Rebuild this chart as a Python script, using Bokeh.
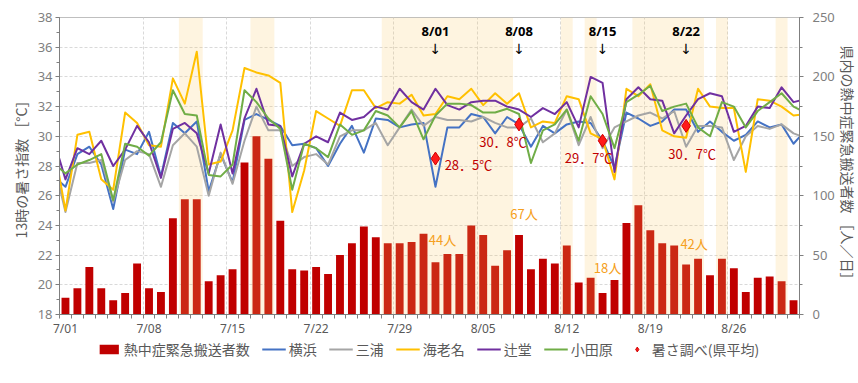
from bokeh.plotting import figure
from bokeh.layouts import column
from bokeh.models import Range1d, LinearAxis, FixedTicker, Legend, LegendItem
from bokeh.core.properties import value
from bokeh.embed import file_html
from bokeh.resources import INLINE

# ---------------- data ----------------
dates = [f"7/{d:02d}" for d in range(1, 32)] + [f"8/{d:02d}" for d in range(1, 32)]
tick_labels = ["7/01", "7/08", "7/15", "7/22", "7/29", "8/05", "8/12", "8/19", "8/26"]

# 熱中症緊急搬送者数 (persons / day), 7/01 .. 8/31
transports = [14, 22, 40, 22, 12, 18, 43, 22, 19, 81,
              97, 97, 28, 33, 38, 128, 150, 131, 79, 38,
              37, 40, 34, 50, 60, 74, 65, 60, 60, 61,
              68, 44, 51, 51, 75, 67, 41, 54, 67, 38,
              47, 43, 58, 27, 31, 18, 29, 77, 92, 71,
              60, 58, 42, 47, 33, 47, 39, 19, 31, 32,
              28, 12]

# 13時の暑さ指数, 6/30 .. 9/01 (first and last points lie outside the axis)
line_dates = ["6/30"] + dates + ["9/01"]
yokohama = [27.3,
            26.6, 28.8, 29.3, 28.1, 25.1, 29.1, 28.8, 30.3, 27.3, 30.9,
            30.2, 31.0, 26.3, 28.8, 26.9, 31.1, 31.5, 31.1, 30.7, 29.4,
            29.5, 29.2, 28.0, 29.5, 30.7, 28.9, 31.2, 31.1, 30.6, 30.8,
            30.9, 26.6, 30.6, 30.6, 31.5, 31.3, 30.2, 31.3, 30.8, 29.3,
            30.7, 30.2, 30.8, 31.0, 30.9, 29.7, 27.9, 31.6, 31.2, 30.7,
            31.0, 31.8, 31.8, 30.3, 31.0, 30.3, 29.7, 30.1, 31.0, 30.6,
            30.8, 29.5,
            30.4]
miura = [28.3,
         24.9, 28.2, 28.2, 28.4, 25.6, 28.4, 29.0, 28.8, 26.6, 29.4,
         30.2, 29.3, 26.0, 28.9, 26.8, 29.7, 32.0, 30.4, 30.4, 28.0,
         28.6, 28.8, 28.1, 30.0, 30.4, 30.4, 30.9, 29.4, 30.6, 31.8,
         30.7, 31.3, 31.1, 31.1, 31.0, 31.3, 30.9, 30.6, 30.6, 31.2,
         29.6, 30.2, 31.8, 29.4, 31.3, 29.2, 30.6, 31.0, 31.4, 31.6,
         31.2, 31.7, 29.3, 30.7, 30.7, 30.6, 28.4, 30.0, 30.7, 30.5,
         30.8, 30.2,
         29.9]
ebina = [29.5,
         25.0, 30.1, 30.3, 27.1, 26.4, 31.6, 30.9, 29.4, 29.3, 33.9,
         32.2, 35.7, 28.1, 28.3, 30.4, 34.6, 34.3, 34.1, 33.6, 24.9,
         27.7, 31.7, 31.2, 30.7, 33.1, 33.1, 31.9, 32.3, 32.2, 32.8,
         31.4, 31.5, 32.7, 32.5, 33.2, 32.1, 32.9, 32.2, 32.9, 30.6,
         31.0, 30.9, 32.7, 32.5, 30.2, 29.8, 27.1, 33.2, 32.7, 33.5,
         30.4, 30.0, 29.9, 33.2, 32.0, 31.9, 31.9, 27.6, 32.5, 32.4,
         32.0, 31.4,
         31.5]
tsujido = [29.8,
           27.1, 29.2, 28.8, 29.7, 28.0, 29.1, 30.7, 29.6, 27.2, 30.5,
           30.9, 30.2, 27.5, 30.8, 27.5, 31.2, 33.2, 30.8, 30.7, 27.3,
           29.5, 30.0, 29.6, 31.6, 31.1, 31.3, 32.0, 31.8, 33.2, 32.3,
           31.8, 33.2, 32.1, 31.8, 32.3, 32.4, 32.4, 32.0, 31.8, 31.3,
           31.9, 31.5, 32.3, 30.6, 34.0, 33.6, 27.6, 32.5, 33.3, 32.5,
           32.4, 30.2, 31.4, 32.5, 32.9, 32.7, 30.3, 30.7, 32.0, 31.9,
           33.3, 32.3,
           32.5]
odawara = [28.2,
           27.5, 28.1, 28.4, 28.8, 25.7, 29.5, 29.3, 28.7, 29.6, 33.1,
           31.5, 31.4, 27.4, 27.3, 28.1, 33.1, 32.3, 31.2, 30.5, 26.4,
           29.5, 29.2, 28.6, 30.8, 30.1, 30.4, 31.7, 31.4, 30.6, 31.7,
           29.8, 31.4, 32.2, 32.2, 32.1, 31.6, 31.6, 31.85, 31.5, 28.2,
           30.4, 30.8, 31.8, 29.7, 32.7, 31.5, 29.2, 32.3, 32.8, 33.4,
           31.7, 32.0, 32.2, 30.6, 30.0, 32.3, 32.0, 30.6, 31.7, 32.3,
           32.9, 32.0,
           31.6]

# 暑さ調べ (県平均)
survey_dates = ["8/01", "8/08", "8/15", "8/22"]
survey_wbgt = [28.5, 30.8, 29.7, 30.7]

# shaded days
shaded_dates = ["7/11", "7/12", "7/17", "7/18",
                "7/28", "7/29", "7/30", "7/31", "8/01", "8/02", "8/03", "8/04", "8/05", "8/06", "8/07",
                "8/12", "8/14",
                "8/18", "8/19", "8/20", "8/21", "8/22", "8/23",
                "8/25", "8/30"]

series = [("横浜", yokohama, "#4472c4"),
          ("三浦", miura, "#a5a5a5"),
          ("海老名", ebina, "#ffc000"),
          ("辻堂", tsujido, "#7030a0"),
          ("小田原", odawara, "#70ad47")]

# ---------------- layout helpers ----------------
B_L, B_R, B_T, B_B = 59, 59, 17, 22
FRAME_W, FRAME_H = 740, 297
LEG_H = 383 - (B_T + FRAME_H + B_B)
N_DAYS = len(dates)
DAY_PX = FRAME_W / N_DAYS
L_PX = FRAME_H / 20.0
N_PX = FRAME_H / 250.0
JP = value("Noto Sans CJK JP")
NUM = "Noto Sans"
BAR_COLOR = "#c00000"
DIA_FILL, DIA_LINE = "#ff1a1a", "#d00000"

idx = {d: i for i, d in enumerate(dates)}
x_days = list(range(N_DAYS))
x_line = [i - 1 for i in range(len(line_dates))]
tick_x = [idx[t] for t in tick_labels]
survey_x = [idx[d] for d in survey_dates]

p = figure(frame_width=FRAME_W, frame_height=FRAME_H,
           x_range=Range1d(-0.5, N_DAYS - 0.5), y_range=Range1d(18, 38),
           output_backend="svg", toolbar_location=None,
           min_border_left=B_L, min_border_right=B_R, min_border_top=B_T, min_border_bottom=B_B,
           background_fill_color="white", border_fill_color="white",
           outline_line_color="#bfbfbf")
p.extra_y_ranges = {"n": Range1d(0, 250)}

# bars
p.vbar(x=x_days, top=transports, bottom=0, width=0.66, y_range_name="n",
       fill_color=BAR_COLOR, line_color=None)

# shaded bands (runs of consecutive shaded days)
sd = sorted(idx[d] for d in shaded_dates)
runs = []
for d in sd:
    if runs and d == runs[-1][1] + 1:
        runs[-1][1] = d
    else:
        runs.append([d, d])
p.quad(left=[a - 0.5 for a, b in runs], right=[b + 0.5 for a, b in runs],
       bottom=18, top=38, fill_color=(250, 200, 100), fill_alpha=0.2, line_color=None)

# lines
for name, vals, col in series:
    p.line(x=x_line, y=vals, line_color=col, line_width=2, line_join="round")

# survey diamonds
p.scatter(x=survey_x, y=survey_wbgt, marker="diamond", size=13,
          fill_color=DIA_FILL, line_color=DIA_LINE, line_width=1)

# survey value labels
lab_dx = [33, -16, -14, 6]
lab_dy = [-6, -17, -17, -28]
p.text(x=[sx + dx / DAY_PX for sx, dx in zip(survey_x, lab_dx)],
       y=[v + dy / L_PX for v, dy in zip(survey_wbgt, lab_dy)],
       text=[f"{int(v)}．{int(round(v * 10)) % 10}℃" for v in survey_wbgt],
       text_font=JP, text_font_size="13px", text_color="#c00000",
       text_align="center", text_baseline="middle")

# persons labels on survey days
n_dx = [7, 5, 5, 8]
n_dy = [23, 21, 26, 21]
p.text(x=[sx + dx / DAY_PX for sx, dx in zip(survey_x, n_dx)],
       y=[transports[sx] + dy / N_PX for sx, dy in zip(survey_x, n_dy)],
       text=[f"{transports[sx]}人" for sx in survey_x], y_range_name="n",
       text_font=JP, text_font_size="13px", text_color="#f5a020",
       text_align="center", text_baseline="middle")

# date markers at the top
p.text(x=survey_x, y=[38 - 13 / L_PX] * len(survey_x), text=survey_dates,
       text_font=value(NUM), text_font_size="13px", text_font_style="bold",
       text_color="#000000", text_align="center", text_baseline="middle")
p.text(x=survey_x, y=[38 - 31 / L_PX] * len(survey_x), text=["↓"] * len(survey_x),
       text_font=value("DejaVu Sans"), text_font_size="14px", text_color="#000000",
       text_align="center", text_baseline="middle")

# ---------------- axes ----------------
xa = p.xaxis[0]
xa.ticker = FixedTicker(ticks=tick_x, minor_ticks=[i - 0.5 for i in range(N_DAYS + 1)])
xa.major_label_overrides = {t: lab for t, lab in zip(tick_x, tick_labels)}
xa.major_tick_line_color = None
xa.major_tick_out = 0
xa.major_tick_in = 0
xa.minor_tick_out = 4
xa.minor_tick_in = 0
xa.minor_tick_line_color = "#7f7f7f"
xa.axis_line_color = "#7f7f7f"
xa.major_label_text_font = NUM
xa.major_label_text_font_size = "12px"
xa.major_label_text_color = "#595959"
xa.major_label_standoff = 1

ya = p.yaxis[0]
ya.ticker = FixedTicker(ticks=list(range(18, 39, 2)), minor_ticks=list(range(18, 39)))
ya.axis_line_color = "#7f7f7f"
ya.major_tick_line_color = "#7f7f7f"
ya.minor_tick_line_color = "#7f7f7f"
ya.major_tick_out = 4
ya.major_tick_in = 0
ya.minor_tick_out = 3
ya.minor_tick_in = 0
ya.major_label_text_font = NUM
ya.major_label_text_font_size = "13px"
ya.major_label_text_color = "#7f7f7f"
ya.major_label_standoff = 3
ya.axis_label = "13時の暑さ指数 ［°C］"
ya.axis_label_text_font = "Noto Sans CJK JP"
ya.axis_label_text_font_size = "14px"
ya.axis_label_text_font_style = "normal"
ya.axis_label_text_color = "#595959"
ya.axis_label_standoff = 4

ra = LinearAxis(y_range_name="n",
                ticker=FixedTicker(ticks=list(range(0, 251, 50)), minor_ticks=list(range(0, 251, 25))))
ra.axis_line_color = "#7f7f7f"
ra.major_tick_line_color = "#7f7f7f"
ra.minor_tick_line_color = "#7f7f7f"
ra.major_tick_out = 4
ra.major_tick_in = 0
ra.minor_tick_out = 3
ra.minor_tick_in = 0
ra.major_label_text_font = NUM
ra.major_label_text_font_size = "13px"
ra.major_label_text_color = "#7f7f7f"
ra.major_label_standoff = 9
ra.axis_label = "県内の熱中症緊急搬送者数 ［人／日］"
ra.axis_label_orientation = "vertical"
ra.axis_label_text_font = "Noto Sans CJK JP"
ra.axis_label_text_font_size = "14px"
ra.axis_label_text_font_style = "normal"
ra.axis_label_text_color = "#595959"
ra.axis_label_standoff = 0
p.add_layout(ra, "right")

p.xgrid[0].ticker = FixedTicker(ticks=[t - 0.5 for t in tick_x[1:]])
p.xgrid[0].grid_line_color = "#d9d9d9"
p.xgrid[0].grid_line_dash = "3 2"
p.ygrid[0].ticker = FixedTicker(ticks=list(range(20, 38, 2)))
p.ygrid[0].grid_line_color = "#d9d9d9"
p.ygrid[0].grid_line_dash = "3 2"

# ---------------- legend (separate strip below the chart) ----------------
lg = figure(width=B_L + FRAME_W + B_R, height=LEG_H, x_range=Range1d(0, 1), y_range=Range1d(0, 1),
            output_backend="svg", toolbar_location=None, min_border=0,
            x_axis_location=None, y_axis_location=None, outline_line_color=None,
            background_fill_color="white", border_fill_color="white")
lg.grid.visible = False
# proxy renderers placed outside the visible range; only their legend glyphs show
items = [LegendItem(label="熱中症緊急搬送者数",
                    renderers=[lg.vbar(x=[-5], top=[-5], bottom=[-6], width=0.5,
                                       fill_color=BAR_COLOR, line_color=None)])]
for name, vals, col in series:
    items.append(LegendItem(label=name,
                            renderers=[lg.line(x=[-6, -5], y=[-5, -5], line_color=col, line_width=2)]))
items.append(LegendItem(label="暑さ調べ(県平均)",
                        renderers=[lg.scatter(x=[-5], y=[-5], marker="diamond", size=11,
                                              fill_color=DIA_FILL, line_color=DIA_LINE)]))
leg = Legend(items=items, orientation="horizontal", location="top_center",
             label_text_font="Noto Sans CJK JP", label_text_font_size="14px",
             label_text_color="#595959", glyph_width=24, glyph_height=12,
             label_standoff=3, spacing=12, padding=0, margin=0,
             border_line_color=None, background_fill_alpha=0)
lg.add_layout(leg, "center")

open("out.html", "w").write(file_html(column(p, lg, spacing=0), INLINE))
